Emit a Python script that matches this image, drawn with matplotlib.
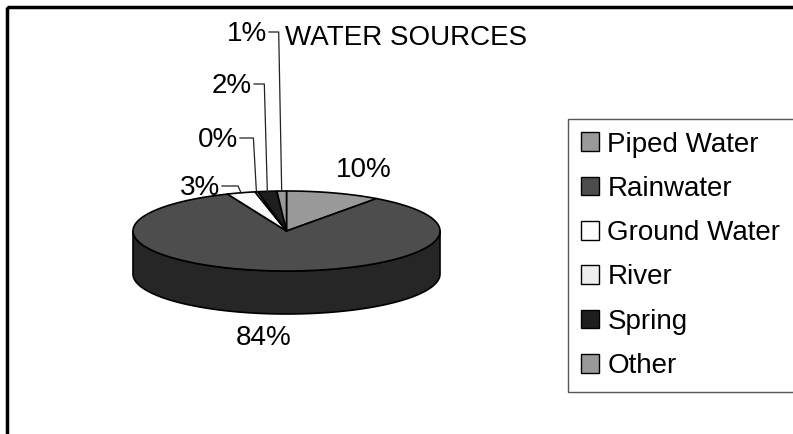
import numpy as np
import matplotlib.pyplot as plt
from matplotlib.patches import Polygon, Patch, Rectangle

# data
labels = ["Piped Water", "Rainwater", "Ground Water", "River", "Spring", "Other"]
values = [10, 84, 3, 0.3, 2, 1]
top_colors = ["#999999", "#4d4d4d", "#fcfcfc", "#eeeeee", "#1e1e1e", "#999999"]
side_colors = ["#6e6e6e", "#262626", "#bdbdbd", "#b0b0b0", "#111111", "#6e6e6e"]
title = "WATER SOURCES"

plt.rcParams['font.family'] = ['Liberation Sans', 'DejaVu Sans']
FS = 20

fig = plt.figure(figsize=(7.93, 4.34), dpi=100)
ax = fig.add_axes([0, 0, 1, 1])
ax.set_xlim(0, 793)
ax.set_ylim(434, 0)
ax.axis('off')

# pie geometry (pixels)
cx, cy, rx, ry, depth = 286.5, 231, 153.5, 40, 43

fracs = np.array(values) / sum(values)
edges = 90 - 360 * np.concatenate([[0], np.cumsum(fracs)])


def rim(a):
    r = np.radians(a)
    return cx + rx * np.cos(r), cy - ry * np.sin(r)


# side walls (front half only)
for i in range(len(values)):
    a0, a1 = edges[i], edges[i + 1]
    hi, lo = min(a0, 0), max(a1, -180)
    if hi <= lo:
        continue
    t = np.linspace(hi, lo, 120)
    xs, ys = rim(t)
    pts = np.column_stack([np.r_[xs, xs[::-1]], np.r_[ys, ys[::-1] + depth]])
    ax.add_patch(Polygon(pts, closed=True, facecolor=side_colors[i],
                         edgecolor='black', lw=1.2, joinstyle='round'))

# top faces
for i in range(len(values)):
    t = np.linspace(edges[i], edges[i + 1], 200)
    xs, ys = rim(t)
    pts = np.column_stack([np.r_[cx, xs], np.r_[cy, ys]])
    ax.add_patch(Polygon(pts, closed=True, facecolor=top_colors[i],
                         edgecolor='black', lw=1.2, joinstyle='round'))

pcts = [f"{100 * f:.0f}%" for f in fracs]
mids = (edges[:-1] + edges[1:]) / 2

# big slices: labels placed outside the pie
for i, (lx, ly) in {0: (364, 170), 1: (264, 338)}.items():
    ax.text(lx, ly, pcts[i], fontsize=FS, ha='center', va='center')

# small slices: stacked labels with leader lines
stack = {2: (220, 188), 3: (238, 140), 4: (252, 86), 5: (267, 34)}
for i, (lx, ly) in stack.items():
    ax.text(lx, ly, pcts[i], fontsize=FS, ha='right', va='center')
    axx, ayy = rim(mids[i])
    ax.plot([lx + 2, axx - 3, axx], [ly - 2, ly - 2, ayy], color='#222222', lw=0.9)

ax.text(285, 38, title, fontsize=FS, ha='left', va='center')

# chart area frame
ax.add_patch(Rectangle((7, 7), 820, 460, fill=False, edgecolor='black', lw=2.5))

handles = [Patch(facecolor=c, edgecolor='black', lw=1) for c in top_colors]
leg = ax.legend(handles, labels, loc='upper left', fontsize=FS,
                bbox_to_anchor=(568 / 793, 1 - 119 / 434, 260 / 793, 0),
                mode='expand', borderaxespad=0, borderpad=0.45,
                labelspacing=0.66, handlelength=0.65, handleheight=0.65,
                handletextpad=0.32, fancybox=False, framealpha=1)
leg.get_frame().set_edgecolor('#555555')
leg.get_frame().set_linewidth(1)

fig.savefig("out.png", dpi=100)
